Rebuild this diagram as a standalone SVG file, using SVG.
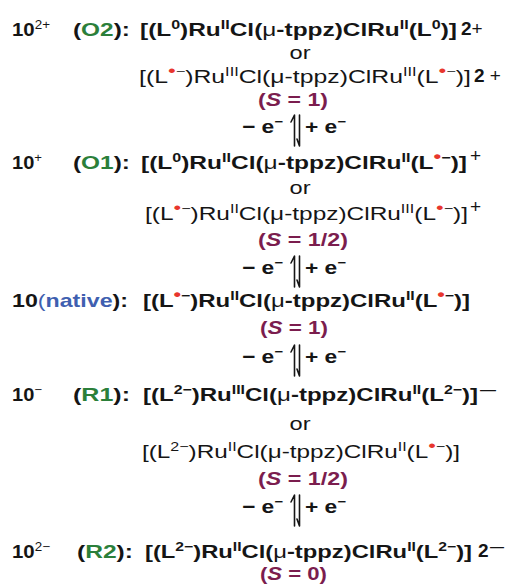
<svg xmlns="http://www.w3.org/2000/svg" width="509" height="585" viewBox="0 0 509 585">
<style>
.t{font-family:"Liberation Sans",Arial,Helvetica,sans-serif;font-size:19px;fill:#151515}
.b{font-weight:bold}
.n{font-weight:normal}
.sp{font-size:12.5px}
.r{fill:#e8362d;font-size:17px}
.g{fill:#2b7f3a}
.bl{fill:#3f5fb0}
.p{fill:#7b1d4e}
.i{font-style:italic}
.h{fill:none;stroke:#151515;stroke-width:1.6;stroke-linecap:round;stroke-linejoin:round}
</style>
<rect width="509" height="585" fill="#ffffff"/>

<g id="node-O2">
<text class="t b" x="12" y="36" textLength="38" lengthAdjust="spacingAndGlyphs">10<tspan class="n sp" dy="-7">2+</tspan></text>
<text class="t b" x="73" y="36" textLength="57" lengthAdjust="spacingAndGlyphs">(<tspan class="g">O2</tspan>):</text>
<text class="t b" x="140" y="36" textLength="317" lengthAdjust="spacingAndGlyphs">[(L<tspan class="sp" dy="-7">0</tspan><tspan dy="7">)Ru</tspan><tspan class="sp" dy="-7">II</tspan><tspan dy="7">Cl(</tspan><tspan class="n">μ</tspan>-tppz)ClRu<tspan class="sp" dy="-7">II</tspan><tspan dy="7">(L</tspan><tspan class="sp" dy="-7">0</tspan><tspan dy="7">)]</tspan></text>
<text class="t b" x="461" y="35">2<tspan class="n">+</tspan></text>
<text class="t" x="300" y="59" text-anchor="middle" textLength="21" lengthAdjust="spacingAndGlyphs">or</text>
<text class="t" x="139" y="83" textLength="332" lengthAdjust="spacingAndGlyphs">[(L<tspan class="sp" dy="-7"><tspan class="r">•</tspan>−</tspan><tspan dy="7">)Ru</tspan><tspan class="sp" dy="-7">III</tspan><tspan dy="7">Cl(μ-tppz)ClRu</tspan><tspan class="sp" dy="-7">III</tspan><tspan dy="7">(L</tspan><tspan class="sp" dy="-7"><tspan class="r">•</tspan>−</tspan><tspan dy="7">)]</tspan></text>
<text class="t" x="474" y="82"><tspan class="b">2</tspan> +</text>
<text class="t b p" x="258" y="106" textLength="70" lengthAdjust="spacingAndGlyphs">(<tspan class="i">S</tspan> = 1)</text>
</g>

<g id="node-O1">
<text class="t b" x="12" y="169" textLength="30" lengthAdjust="spacingAndGlyphs">10<tspan class="n sp" dy="-7">+</tspan></text>
<text class="t b" x="73" y="169" textLength="57" lengthAdjust="spacingAndGlyphs">(<tspan class="g">O1</tspan>):</text>
<text class="t b" x="141" y="169" textLength="326" lengthAdjust="spacingAndGlyphs">[(L<tspan class="sp" dy="-7">0</tspan><tspan dy="7">)Ru</tspan><tspan class="sp" dy="-7">II</tspan><tspan dy="7">Cl(</tspan><tspan class="n">μ</tspan>-tppz)ClRu<tspan class="sp" dy="-7">II</tspan><tspan dy="7">(L</tspan><tspan class="sp" dy="-7"><tspan class="r">•</tspan>−</tspan><tspan dy="7">)]</tspan></text>
<text class="t" x="470" y="162" font-size="15">+</text>
<text class="t" x="300" y="194" text-anchor="middle" textLength="21" lengthAdjust="spacingAndGlyphs">or</text>
<text class="t" x="145" y="220" textLength="323" lengthAdjust="spacingAndGlyphs">[(L<tspan class="sp" dy="-7"><tspan class="r">•</tspan>−</tspan><tspan dy="7">)Ru</tspan><tspan class="sp" dy="-7">II</tspan><tspan dy="7">Cl(μ-tppz)ClRu</tspan><tspan class="sp" dy="-7">III</tspan><tspan dy="7">(L</tspan><tspan class="sp" dy="-7"><tspan class="r">•</tspan>−</tspan><tspan dy="7">)]</tspan></text>
<text class="t" x="470" y="213" font-size="15">+</text>
<text class="t b p" x="258" y="246" textLength="90" lengthAdjust="spacingAndGlyphs">(<tspan class="i">S</tspan> = 1/2)</text>
</g>

<g id="node-native">
<text class="t b" x="12" y="307" textLength="116" lengthAdjust="spacingAndGlyphs">10<tspan class="n bl">(</tspan><tspan class="bl">native</tspan>):</text>
<text class="t b" x="143" y="307" textLength="327" lengthAdjust="spacingAndGlyphs">[(L<tspan class="sp" dy="-7"><tspan class="r">•</tspan>−</tspan><tspan dy="7">)Ru</tspan><tspan class="sp" dy="-7">II</tspan><tspan dy="7">Cl(</tspan><tspan class="n">μ</tspan>-tppz)ClRu<tspan class="sp" dy="-7">II</tspan><tspan dy="7">(L</tspan><tspan class="sp" dy="-7"><tspan class="r">•</tspan>−</tspan><tspan dy="7">)]</tspan></text>
<text class="t b p" x="260" y="334" textLength="68" lengthAdjust="spacingAndGlyphs">(<tspan class="i">S</tspan> = 1)</text>
</g>

<g id="node-R1">
<text class="t b" x="12" y="401" textLength="30" lengthAdjust="spacingAndGlyphs">10<tspan class="n sp" dy="-7">−</tspan></text>
<text class="t b" x="73" y="401" textLength="57" lengthAdjust="spacingAndGlyphs">(<tspan class="g">R1</tspan>):</text>
<text class="t b" x="143" y="401" textLength="335" lengthAdjust="spacingAndGlyphs">[(L<tspan class="sp" dy="-7">2−</tspan><tspan dy="7">)Ru</tspan><tspan class="sp" dy="-7">III</tspan><tspan dy="7">Cl(</tspan><tspan class="n">μ</tspan>-tppz)ClRu<tspan class="sp" dy="-7">II</tspan><tspan dy="7">(L</tspan><tspan class="sp" dy="-7">2−</tspan><tspan dy="7">)]</tspan></text>
<text class="t" x="480" y="395" font-size="17" textLength="16" lengthAdjust="spacingAndGlyphs">—</text>
<text class="t" x="300" y="430" text-anchor="middle" textLength="21" lengthAdjust="spacingAndGlyphs">or</text>
<text class="t" x="142" y="458" textLength="318" lengthAdjust="spacingAndGlyphs">[(L<tspan class="sp" dy="-7">2−</tspan><tspan dy="7">)Ru</tspan><tspan class="sp" dy="-7">II</tspan><tspan dy="7">Cl(μ-tppz)ClRu</tspan><tspan class="sp" dy="-7">II</tspan><tspan dy="7">(L</tspan><tspan class="sp" dy="-7"><tspan class="r">•</tspan>−</tspan><tspan dy="7">)]</tspan></text>
<text class="t b p" x="258" y="485" textLength="90" lengthAdjust="spacingAndGlyphs">(<tspan class="i">S</tspan> = 1/2)</text>
</g>

<g id="node-R2">
<text class="t b" x="12" y="558" textLength="38" lengthAdjust="spacingAndGlyphs">10<tspan class="n sp" dy="-7">2−</tspan></text>
<text class="t b" x="77" y="558" textLength="56" lengthAdjust="spacingAndGlyphs">(<tspan class="g">R2</tspan>):</text>
<text class="t b" x="145" y="558" textLength="327" lengthAdjust="spacingAndGlyphs">[(L<tspan class="sp" dy="-7">2−</tspan><tspan dy="7">)Ru</tspan><tspan class="sp" dy="-7">II</tspan><tspan dy="7">Cl(</tspan><tspan class="n">μ</tspan>-tppz)ClRu<tspan class="sp" dy="-7">II</tspan><tspan dy="7">(L</tspan><tspan class="sp" dy="-7">2−</tspan><tspan dy="7">)]</tspan></text>
<text class="t b" x="478" y="557">2</text>
<text class="t" x="490" y="552" font-size="16" textLength="14" lengthAdjust="spacingAndGlyphs">—</text>
<text class="t b p" x="260" y="580" textLength="67" lengthAdjust="spacingAndGlyphs">(<tspan class="i">S</tspan> = 0)</text>
</g>

<g id="connectors">
<g id="eq-O2-O1">
<text class="t b" x="242" y="133" textLength="41" lengthAdjust="spacingAndGlyphs">− e<tspan class="sp" dy="-7">−</tspan></text>
<path class="h" d="M294.5 146V115L291 122M299.5 115V146L297 139"/>
<text class="t b" x="305" y="133" textLength="41" lengthAdjust="spacingAndGlyphs">+ e<tspan class="sp" dy="-7">−</tspan></text>
</g>
<g id="eq-O1-native">
<text class="t b" x="242" y="274" textLength="41" lengthAdjust="spacingAndGlyphs">− e<tspan class="sp" dy="-7">−</tspan></text>
<path class="h" d="M294.5 287V256L291 263M299.5 256V287L297 280"/>
<text class="t b" x="305" y="274" textLength="41" lengthAdjust="spacingAndGlyphs">+ e<tspan class="sp" dy="-7">−</tspan></text>
</g>
<g id="eq-native-R1">
<text class="t b" x="242" y="363" textLength="41" lengthAdjust="spacingAndGlyphs">− e<tspan class="sp" dy="-7">−</tspan></text>
<path class="h" d="M294.5 376V345L291 352M299.5 345V376L297 369"/>
<text class="t b" x="305" y="363" textLength="41" lengthAdjust="spacingAndGlyphs">+ e<tspan class="sp" dy="-7">−</tspan></text>
</g>
<g id="eq-R1-R2">
<text class="t b" x="242" y="513" textLength="41" lengthAdjust="spacingAndGlyphs">− e<tspan class="sp" dy="-7">−</tspan></text>
<path class="h" d="M294.5 526V495L291 502M299.5 495V526L297 519"/>
<text class="t b" x="305" y="513" textLength="41" lengthAdjust="spacingAndGlyphs">+ e<tspan class="sp" dy="-7">−</tspan></text>
</g>
</g>
</svg>
